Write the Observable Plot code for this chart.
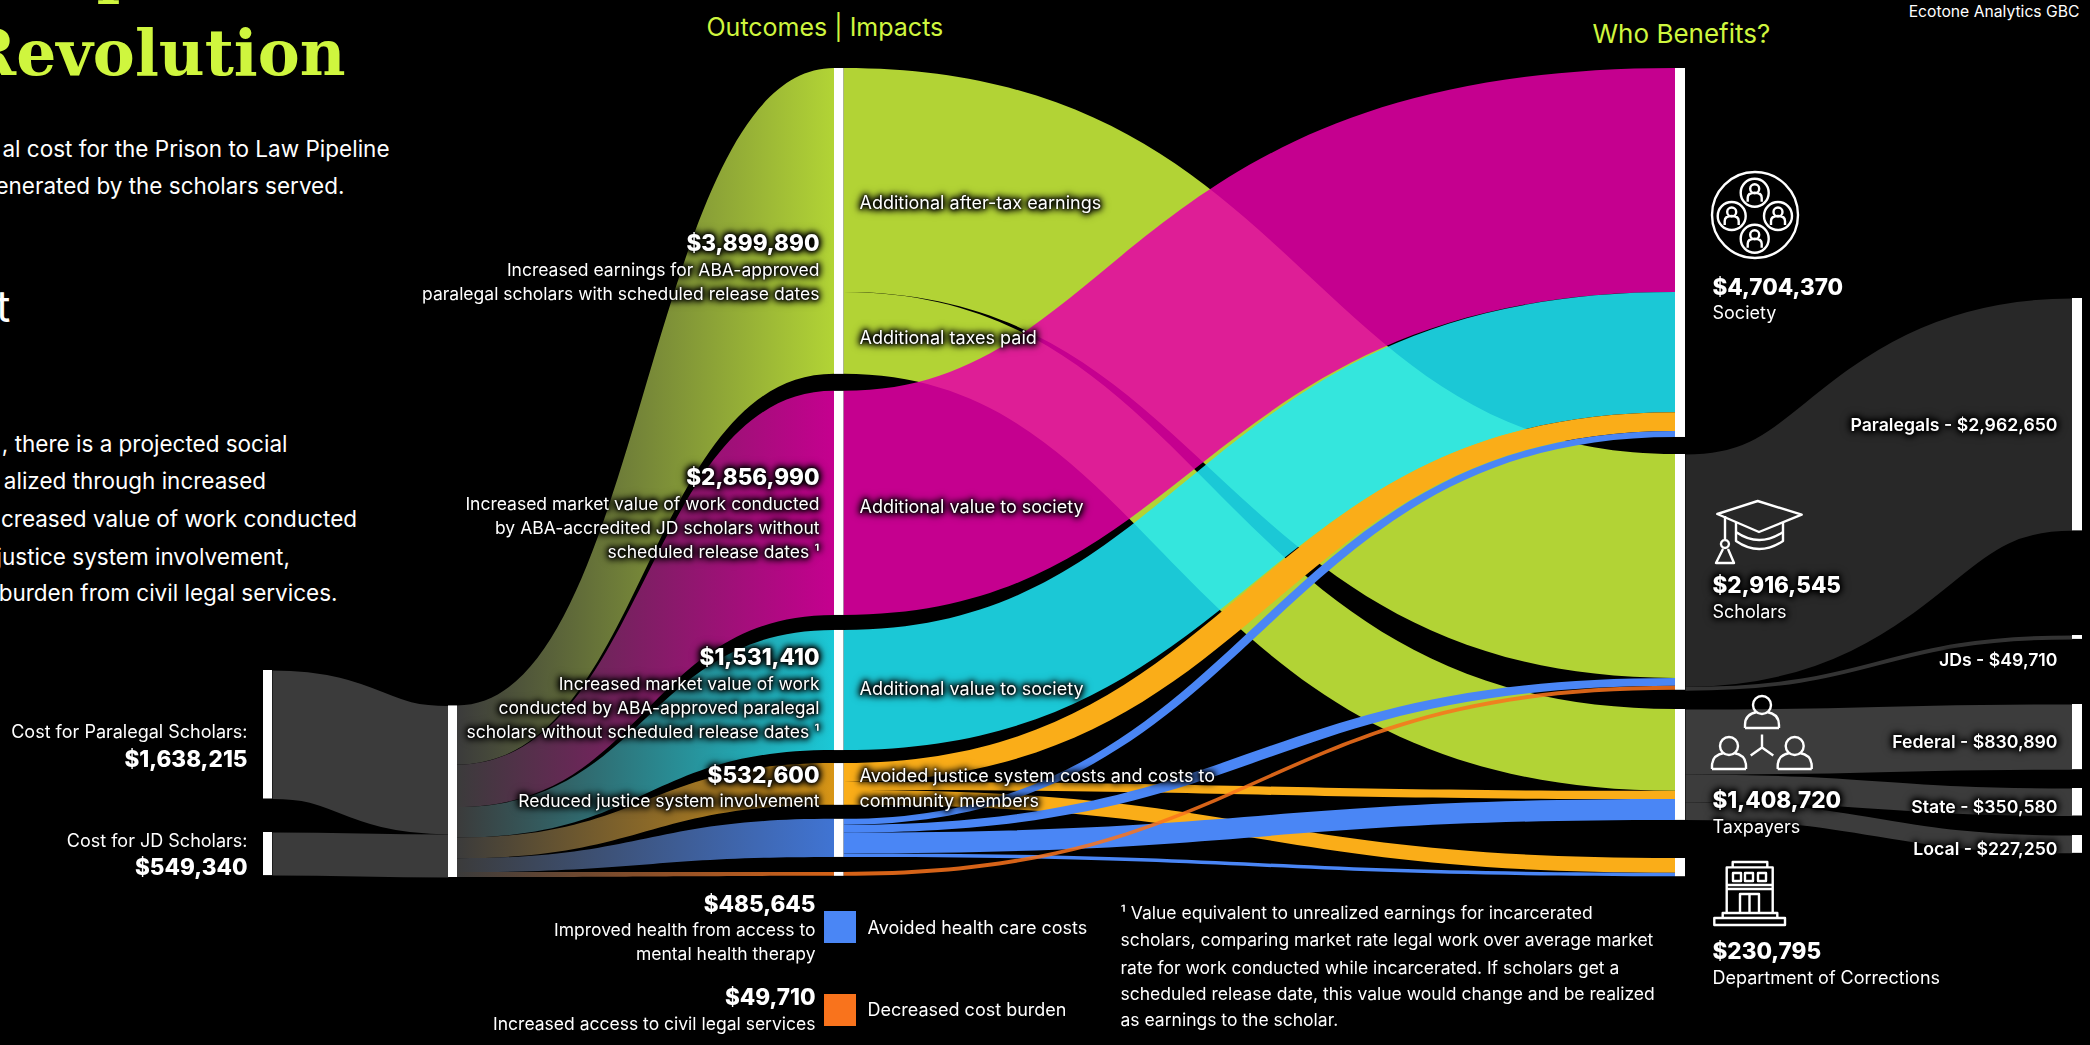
<!DOCTYPE html>
<html>
<head>
<meta charset="utf-8">
<script src="https://cdn.jsdelivr.net/npm/d3@7"></script>
<script src="https://cdn.jsdelivr.net/npm/@observablehq/plot@0.6"></script>
<style>
  html, body { margin: 0; padding: 0; background: #000; overflow: hidden; }
  svg { display: block; }
</style>
</head>
<body>
<div id="chart"></div>
<script>
// ---- values (dollars) ----
const costNames = ["Cost for Paralegal Scholars:", "Cost for JD Scholars:"];
const costValues = [1638215, 549340];
const costAllocation = [754000, 541000, 390000, 264000, 176000, 62555];

const outcomeValues = [3899890, 2856990, 1531410, 532600, 485645, 49710];
const beneficiaryValues = [4704370, 2916545, 1408720, 230795];
const beneficiaryNames = ["Society", "Scholars", "Taxpayers", "Department of Corrections"];

const flowOutcome     = [0, 0, 1, 2, 3, 3, 3, 4, 4, 4, 4, 5];
const flowBeneficiary = [1, 2, 0, 0, 0, 2, 3, 0, 1, 2, 3, 1];
const flowValue = [2856000, 1043890, 2856990, 1531410, 240000, 105000, 187600, 75970, 100000, 265000, 44675, 49710];

const splitNames  = ["Paralegals", "JDs", "Federal", "State", "Local"];
const splitSource = [1, 1, 2, 2, 2];
const splitValues = [2962650, 49710, 830890, 350580, 227250];

// ---- layout and style (pixels on the page) ----
const K = 12750; // dollars per pixel of the y scale
const colX = [[263, 272], [448, 457], [834, 843.5], [1675, 1685], [2072, 2082]];
const costTops = [670, 832];
const bottomOfCosts = 877;
const outcomeTop = 68;
const outcomeGaps = [17, 15, 13, 14, 15];
const beneficiaryTops = [68, 454, 709, 858];
const splitTops = [298, 635, 704, 788, 835];
// how far the bend of each ribbon edge leans left or right of the midpoint
const flowLeanTop    = [45, -45, -140, -65, -12, 0, 0, -4, -6, 0, 0, 0];
const flowLeanBottom = [-42, -90, -60, -5, 12, 0, 0, 4, 6, 0, 0, 0];

const outcomeTrue = ["#cff63e", "#e500a6", "#1fe9f9", "#faad18", "#4a86f5", "#f9731c"];
const outcomeAlpha = [0.86, 0.86, 0.86, 1, 1, 0.86];
const outcomeShown = ["#b2d435", "#c5008f", "#1bc8d6", "#d79516", "#4074d3", "#d66318"];
const costFill = "#3b3b3b";
const splitFills = ["#282828", "#333333", "#3c3c3c", "#3c3c3c", "#3c3c3c"];
const yellow = "#cff63e";

const px = p => p * K;
const sum = a => a.reduce((s, v) => s + v, 0);

// ---- stacking ----
const outcomeStart = [];
outcomeValues.reduce((top, v, i) => { outcomeStart[i] = top; return top + v + px(outcomeGaps[i] || 0); }, px(outcomeTop));

const costCol1Top = px(bottomOfCosts) - sum(costValues);
const costFlows = costValues.map((v, i) => ({
  value: v, y1: px(costTops[i]) + v / 2,
  y2: costCol1Top + sum(costValues.slice(0, i)) + v / 2
}));

let alloc = costCol1Top;
const leftAreas = outcomeValues.map((v, i) => {
  const a = alloc; alloc += costAllocation[i];
  return [
    {x: colX[1][1], y1: a, y2: a + costAllocation[i]},
    {x: colX[2][0], y1: outcomeStart[i], y2: outcomeStart[i] + v}
  ];
});

const srcOff = outcomeValues.map(() => 0);
const dstOff = beneficiaryValues.map(() => 0);
const benefitFlows = flowValue.map((v, i) => {
  const o = flowOutcome[i], b = flowBeneficiary[i];
  const a = outcomeStart[o] + srcOff[o], c = px(beneficiaryTops[b]) + dstOff[b];
  srcOff[o] += v; dstOff[b] += v;
  return {
    o, top: flowLeanTop[i], bottom: flowLeanBottom[i],
    points: [{x: colX[2][1], y1: a, y2: a + v}, {x: colX[3][0], y1: c, y2: c + v}]
  };
});

// a bump curve whose two edges may bend at different places
const leanedBump = (leanTop, leanBottom) => context => {
  let line = 0, pts = [];
  return {
    areaStart() { line = 0; },
    areaEnd() {},
    lineStart() { pts = []; },
    point(x, y) { pts.push([+x, +y]); },
    lineEnd() {
      const [p, q] = pts;
      const mid = (p[0] + q[0]) / 2 + (line === 0 ? leanBottom : leanTop);
      if (line === 0) context.moveTo(p[0], p[1]); else context.lineTo(p[0], p[1]);
      context.bezierCurveTo(mid, p[1], mid, q[1], q[0], q[1]);
      if (line === 1) context.closePath();
      line++;
    }
  };
};

const srcSplit = beneficiaryValues.map(() => 0);
const splitFlows = splitValues.map((v, i) => {
  const s = splitSource[i];
  const f = {value: v, fill: splitFills[i], y1: px(beneficiaryTops[s]) + srcSplit[s] + v / 2, y2: px(splitTops[i]) + v / 2};
  srcSplit[s] += v;
  return f;
});

const bars = [
  ...costValues.map((v, i) => ({c: 0, y1: px(costTops[i]), y2: px(costTops[i]) + v})),
  {c: 1, y1: costCol1Top, y2: px(bottomOfCosts)},
  ...outcomeValues.map((v, i) => ({c: 2, y1: outcomeStart[i], y2: outcomeStart[i] + v})),
  ...dstOff.map((v, i) => ({c: 3, y1: px(beneficiaryTops[i]), y2: px(beneficiaryTops[i]) + v})),
  ...splitValues.map((v, i) => ({c: 4, y1: px(splitTops[i]), y2: px(splitTops[i]) + v}))
];

const money = v => "$" + d3.format(",")(v);

// ---- text ----
const END = "end", START = "start";
const introLines = [
  ["al cost for the Prison to Law Pipeline", 389, 149],
  ["enerated by the scholars served.", 344, 186.5],
  [", there is a projected social", 287, 444],
  ["alized through increased", 265.6, 481.6],
  ["creased value of work conducted", 356.6, 519],
  ["justice system involvement,", 289.4, 557],
  ["burden from civil legal services.", 337, 593]
];
const moneyLabels = [
  [money(costValues[0]), 247, 759, END], [money(costValues[1]), 247, 867.7, END],
  [money(outcomeValues[0]), 819, 243.7, END], [money(outcomeValues[1]), 819, 477.5, END],
  [money(outcomeValues[2]), 819, 657.7, END], [money(outcomeValues[3]), 819, 775, END],
  [money(outcomeValues[4]), 815, 904, END], [money(outcomeValues[5]), 815, 997.7, END],
  [money(beneficiaryValues[0]), 1712, 287, START], [money(beneficiaryValues[1]), 1712, 585.5, START],
  [money(beneficiaryValues[2]), 1712, 800.6, START], [money(beneficiaryValues[3]), 1712, 951, START]
];
const descLabels = [
  ["Increased earnings for ABA-approved", 819, 270, END],
  ["paralegal scholars with scheduled release dates", 819, 294, END],
  ["Increased market value of work conducted", 819, 504, END],
  ["by ABA-accredited JD scholars without", 819, 528, END],
  ["scheduled release dates \u00b9", 819, 552, END],
  ["Increased market value of work", 819, 684, END],
  ["conducted by ABA-approved paralegal", 819, 708, END],
  ["scholars without scheduled release dates \u00b9", 819, 732, END],
  ["Reduced justice system involvement", 819, 801, END],
  ["Improved health from access to", 815, 930, END],
  ["mental health therapy", 815, 954, END],
  ["Increased access to civil legal services", 815, 1024, END],
  ["\u00b9 Value equivalent to unrealized earnings for incarcerated", 1120, 913, START],
  ["scholars, comparing market rate legal work over average market", 1120, 940, START],
  ["rate for work conducted while incarcerated. If scholars get a", 1120, 967.5, START],
  ["scheduled release date, this value would change and be realized", 1120, 993.6, START],
  ["as earnings to the scholar.", 1120, 1020, START]
];
const flowLabels = [
  [costNames[0], 247, 732, END], [costNames[1], 247, 840.7, END],
  ["Additional after-tax earnings", 859, 203, START],
  ["Additional taxes paid", 859, 338, START],
  ["Additional value to society", 859, 507, START],
  ["Additional value to society", 859, 689, START],
  ["Avoided justice system costs and costs to", 859, 776, START],
  ["community members", 859, 800.6, START],
  ["Avoided health care costs", 867, 928, START],
  ["Decreased cost burden", 867, 1010, START],
  [beneficiaryNames[0], 1712, 313, START], [beneficiaryNames[1], 1712, 612, START],
  [beneficiaryNames[2], 1712, 827, START], [beneficiaryNames[3], 1712, 978, START]
];
const splitLabelPos = [425, 660, 741.6, 806.6, 848.6];
const splitLabels = splitNames.map((n, i) => [`${n} - ${money(splitValues[i])}`, 2057, splitLabelPos[i], END]);

const glow = "drop-shadow(0 0 1.5px #000) drop-shadow(0 0 3px #000) drop-shadow(0 0 3px #000)";
const FONT = "Inter";
const textMark = (rows, o, filter) => [START, END].map(a => Plot.text(rows.filter(r => r[3] === a), {
  x: r => r[1], y: r => px(r[2]), text: r => r[0], textAnchor: a, lineAnchor: "middle",
  fontFamily: FONT, fill: "#fff", ...o, ...(filter ? {imageFilter: filter} : {})
}));
const titleFont = {fontFamily: "DejaVu Serif", fontWeight: 700, fontSize: 63, fill: yellow};

// ---- gradients ----
const defs = () => {
  const d = d3.create("svg:defs");
  outcomeShown.forEach((c, i) => {
    const g = d.append("linearGradient").attr("id", "fade" + i);
    g.append("stop").attr("offset", "0%").attr("stop-color", costFill);
    g.append("stop").attr("offset", "100%").attr("stop-color", c);
  });
  return d.node();
};

// ---- line icons ----
const person = (x, y, s) => `M${x + 4.5 * s} ${y - 4 * s}a${4.5 * s} ${4.5 * s} 0 1 1 ${-9 * s} 0a${4.5 * s} ${4.5 * s} 0 1 1 ${9 * s} 0M${x - 7 * s} ${y + 9 * s}v${-4 * s}q0 ${-5 * s} ${7 * s} ${-5 * s}q${7 * s} 0 ${7 * s} ${5 * s}v${4 * s}`;
const seated = (x, y) => `M${x + 9} ${y}a9 9 0 1 1 -18 0a9 9 0 1 1 18 0M${x - 17} ${y + 23}v-3q0 -11 12 -13M${x + 17} ${y + 23}v-3q0 -11 -12 -13M${x - 17} ${y + 23}h34`;
const iconPaths = [
  "M1798 215a43 43 0 1 1 -86 0a43 43 0 1 1 86 0",
  ...[[1754.7, 192.7], [1731.7, 216], [1778, 216], [1754.7, 238.7]].flatMap(([x, y]) => [
    `M${x + 14} ${y}a14 14 0 1 1 -28 0a14 14 0 1 1 28 0`, person(x, y, 1)
  ]),
  "M1757.7 501L1801.7 514.6L1759 532L1717.3 514Z",
  "M1736 522V541Q1759 557 1783 541V522M1736 532Q1759 548 1783 532",
  "M1725 516V540M1725 540a4 4 0 1 1 -0.1 0M1723 549L1716 563H1734L1728 549",
  seated(1762, 705), seated(1729, 746), seated(1794.7, 746),
  "M1762 734.6V747.5M1762 747.5L1750.7 755.5M1762 747.5L1773.3 755.5",
  "M1732.7 867V862H1767.3V867M1726.7 913V867.4H1772.7V913",
  "M1733 873h8v8h-8zM1745 873h8v8h-8zM1758 873h8v8h-8z",
  "M1727 885H1772M1727 889H1772",
  "M1740 913V894H1759V913M1749.5 894V913",
  "M1722.7 913H1777.3V918H1722.7ZM1714.3 918H1785V925H1714.3Z"
];
const icons = () => {
  const g = d3.create("svg:g").attr("fill", "none").attr("stroke", "#fff").attr("stroke-width", 2.4).attr("stroke-linejoin", "round");
  iconPaths.forEach(p => g.append("path").attr("d", p));
  return g.node();
};

const chart = Plot.plot({
  width: 2090, height: 1045,
  margin: 0,
  style: {background: "#000", color: "#fff", overflow: "hidden"},
  x: {type: "linear", domain: [0, 2090], range: [0, 2090], axis: null},
  y: {type: "linear", domain: [0, 1045 * K], range: [0, 1045], axis: null},
  color: {type: "identity"},
  marks: [
    defs,
    Plot.link(splitFlows, {
      x1: colX[3][1], x2: colX[4][0], y1: "y1", y2: "y2", curve: "bump-x",
      stroke: "fill", strokeWidth: d => d.value / K
    }),
    Plot.link(costFlows, {
      x1: colX[0][1], x2: colX[1][0], y1: "y1", y2: "y2", curve: "bump-x",
      stroke: costFill, strokeWidth: d => d.value / K
    }),
    ...leftAreas.map((a, i) => Plot.area(a, {
      x1: "x", y1: "y1", y2: "y2", curve: "bump-x", fill: `url(#fade${i})`
    })),
    ...benefitFlows.map(f => Plot.area(f.points, {
      x1: "x", y1: "y1", y2: "y2", curve: leanedBump(f.top, f.bottom),
      fill: outcomeTrue[f.o], fillOpacity: outcomeAlpha[f.o]
    })),
    Plot.rectY(bars, {
      x1: d => colX[d.c][0], x2: d => colX[d.c][1], y1: "y1", y2: "y2", fill: "#fff"
    }),
    Plot.rect([{y1: 911, y2: 943, c: outcomeTrue[4]}, {y1: 994, y2: 1026, c: outcomeTrue[5]}], {
      x1: 824, x2: 856, y1: d => px(d.y1), y2: d => px(d.y2), fill: "c"
    }),
    icons,
    Plot.text(["Impact"], {x: 0, y: px(-10), textAnchor: "start", lineAnchor: "bottom", ...titleFont}),
    Plot.text(["Revolution"], {x: 345, y: px(54), textAnchor: "end", lineAnchor: "middle", ...titleFont}),
    Plot.text(["t"], {x: 10, y: px(307), textAnchor: "end", lineAnchor: "middle", fontFamily: FONT, fontSize: 44, fill: "#fff"}),
    ...textMark(introLines.map(r => [...r, END]), {fontSize: 22.5}),
    ...textMark([["Ecotone Analytics GBC", 2079, 11, END]], {fontSize: 15.7}),
    ...textMark([["Outcomes | Impacts", 706, 27, START]], {fontSize: 25, fill: yellow}),
    ...textMark([["Who Benefits?", 1592, 34, START]], {fontSize: 26, fill: yellow}),
    ...textMark(moneyLabels, {fontSize: 22.5, fontWeight: 800}, glow),
    ...textMark(descLabels, {fontSize: 17.5}, glow),
    ...textMark(flowLabels, {fontSize: 18}, glow),
    ...textMark(splitLabels, {fontSize: 17.7, fontWeight: 600}, glow)
  ]
});
document.getElementById("chart").append(chart);
</script>
</body>
</html>
